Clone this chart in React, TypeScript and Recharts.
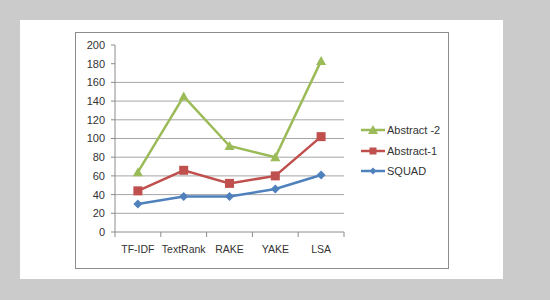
import React from "react";
import { LineChart, Line, XAxis, YAxis, CartesianGrid } from "recharts";

const categories = ["TF-IDF", "TextRank", "RAKE", "YAKE", "LSA"];
const abstract2 = [64, 145, 92, 80, 183];
const abstract1 = [44, 66, 52, 60, 102];
const squad = [30, 38, 38, 46, 61];
const yTicks = [0, 20, 40, 60, 80, 100, 120, 140, 160, 180, 200];
const gridValues = [20, 40, 60, 80, 100, 120, 140, 160];

const data = categories.map((name, i) => ({
  name,
  a2: abstract2[i],
  a1: abstract1[i],
  sq: squad[i],
}));

const GREEN = "#9bbb59";
const RED = "#c0504d";
const BLUE = "#4f81bd";
const AXIS = "#8c8c8c";
const FONT = "'Liberation Sans', Arial, sans-serif";

const Triangle = (props: any) => {
  const { cx, cy, fill } = props;
  if (cx == null || cy == null) return null;
  return <path d={`M${cx},${cy - 5}L${cx + 5},${cy + 4}L${cx - 5},${cy + 4}Z`} fill={fill} />;
};
const Square = (props: any) => {
  const { cx, cy, fill } = props;
  if (cx == null || cy == null) return null;
  return <rect x={cx - 4.5} y={cy - 4.5} width={9} height={9} fill={fill} />;
};
const Diamond = (props: any) => {
  const { cx, cy, fill } = props;
  if (cx == null || cy == null) return null;
  return <path d={`M${cx},${cy - 4.5}L${cx + 4.5},${cy}L${cx},${cy + 4.5}L${cx - 4.5},${cy}Z`} fill={fill} />;
};

// category label with Excel-style tick marks on the band boundaries
const CategoryTick = (props: any) => {
  const { x, y, payload, index, visibleTicksCount } = props;
  const half = payload?.offset ?? 0;
  return (
    <g>
      <line x1={x - half} y1={y} x2={x - half} y2={y + 5} stroke={AXIS} />
      {index === visibleTicksCount - 1 && <line x1={x + half} y1={y} x2={x + half} y2={y + 5} stroke={AXIS} />}
      <text x={x} y={y + 21} textAnchor="middle" fontFamily={FONT} fontSize={10.5} fill="#333">
        {payload.value}
      </text>
    </g>
  );
};

const legendItems = [
  { label: "Abstract -2", color: GREEN, shape: "tri" },
  { label: "Abstract-1", color: RED, shape: "sq" },
  { label: "SQUAD", color: BLUE, shape: "dia" },
];

const ChartLegend = () => (
  <div style={{ position: "absolute", left: 361, top: 120, fontFamily: FONT, fontSize: 11, color: "#333" }}>
    {legendItems.map((it) => (
      <div key={it.label} style={{ display: "flex", alignItems: "center", height: 20.5 }}>
        <svg width={24} height={10} style={{ marginRight: 2 }}>
          <line x1={0} y1={5} x2={24} y2={5} stroke={it.color} strokeWidth={2.5} />
          {it.shape === "tri" && <Triangle cx={12} cy={5} fill={it.color} />}
          {it.shape === "sq" && <rect x={8.5} y={1.5} width={7} height={7} fill={it.color} />}
          {it.shape === "dia" && <path d="M12,1.5L15.5,5L12,8.5L8.5,5Z" fill={it.color} />}
        </svg>
        <span>{it.label}</span>
      </div>
    ))}
  </div>
);

export default function App() {
  return (
    <div style={{ position: "absolute", left: 0, top: 0, width: 550, height: 300, background: "#cbcbcb" }}>
      <div style={{ position: "absolute", left: 20, top: 20, width: 483, height: 259, background: "#fff" }} />
      <div
        style={{
          position: "absolute",
          left: 75,
          top: 32,
          width: 372,
          height: 235,
          border: "1px solid #8c8c8c",
        }}
      />
      <div style={{ position: "absolute", left: 0, top: 0 }}>
        <LineChart width={550} height={300} data={data} margin={{ top: 45, right: 206, bottom: 38, left: 75 }}>
          <CartesianGrid vertical={false} stroke="#a6a6a6" horizontalValues={gridValues} />
          <XAxis
            dataKey="name"
            scale="band"
            stroke={AXIS}
            tickLine={false}
            tickSize={0}
            tickMargin={0}
            height={30}
            tick={<CategoryTick />}
            interval={0}
          />
          <YAxis
            domain={[0, 200]}
            ticks={yTicks}
            width={40}
            tickSize={4}
            stroke={AXIS}
            tick={{ fontFamily: FONT, fontSize: 11, fill: "#333" }}
            tickMargin={6}
            interval={0}
          />
          <Line dataKey="a2" stroke={GREEN} strokeWidth={2.5} dot={<Triangle fill={GREEN} />} isAnimationActive={false} />
          <Line dataKey="a1" stroke={RED} strokeWidth={2.5} dot={<Square fill={RED} />} isAnimationActive={false} />
          <Line dataKey="sq" stroke={BLUE} strokeWidth={2.5} dot={<Diamond fill={BLUE} />} isAnimationActive={false} />
        </LineChart>
      </div>
      <ChartLegend />
    </div>
  );
}
